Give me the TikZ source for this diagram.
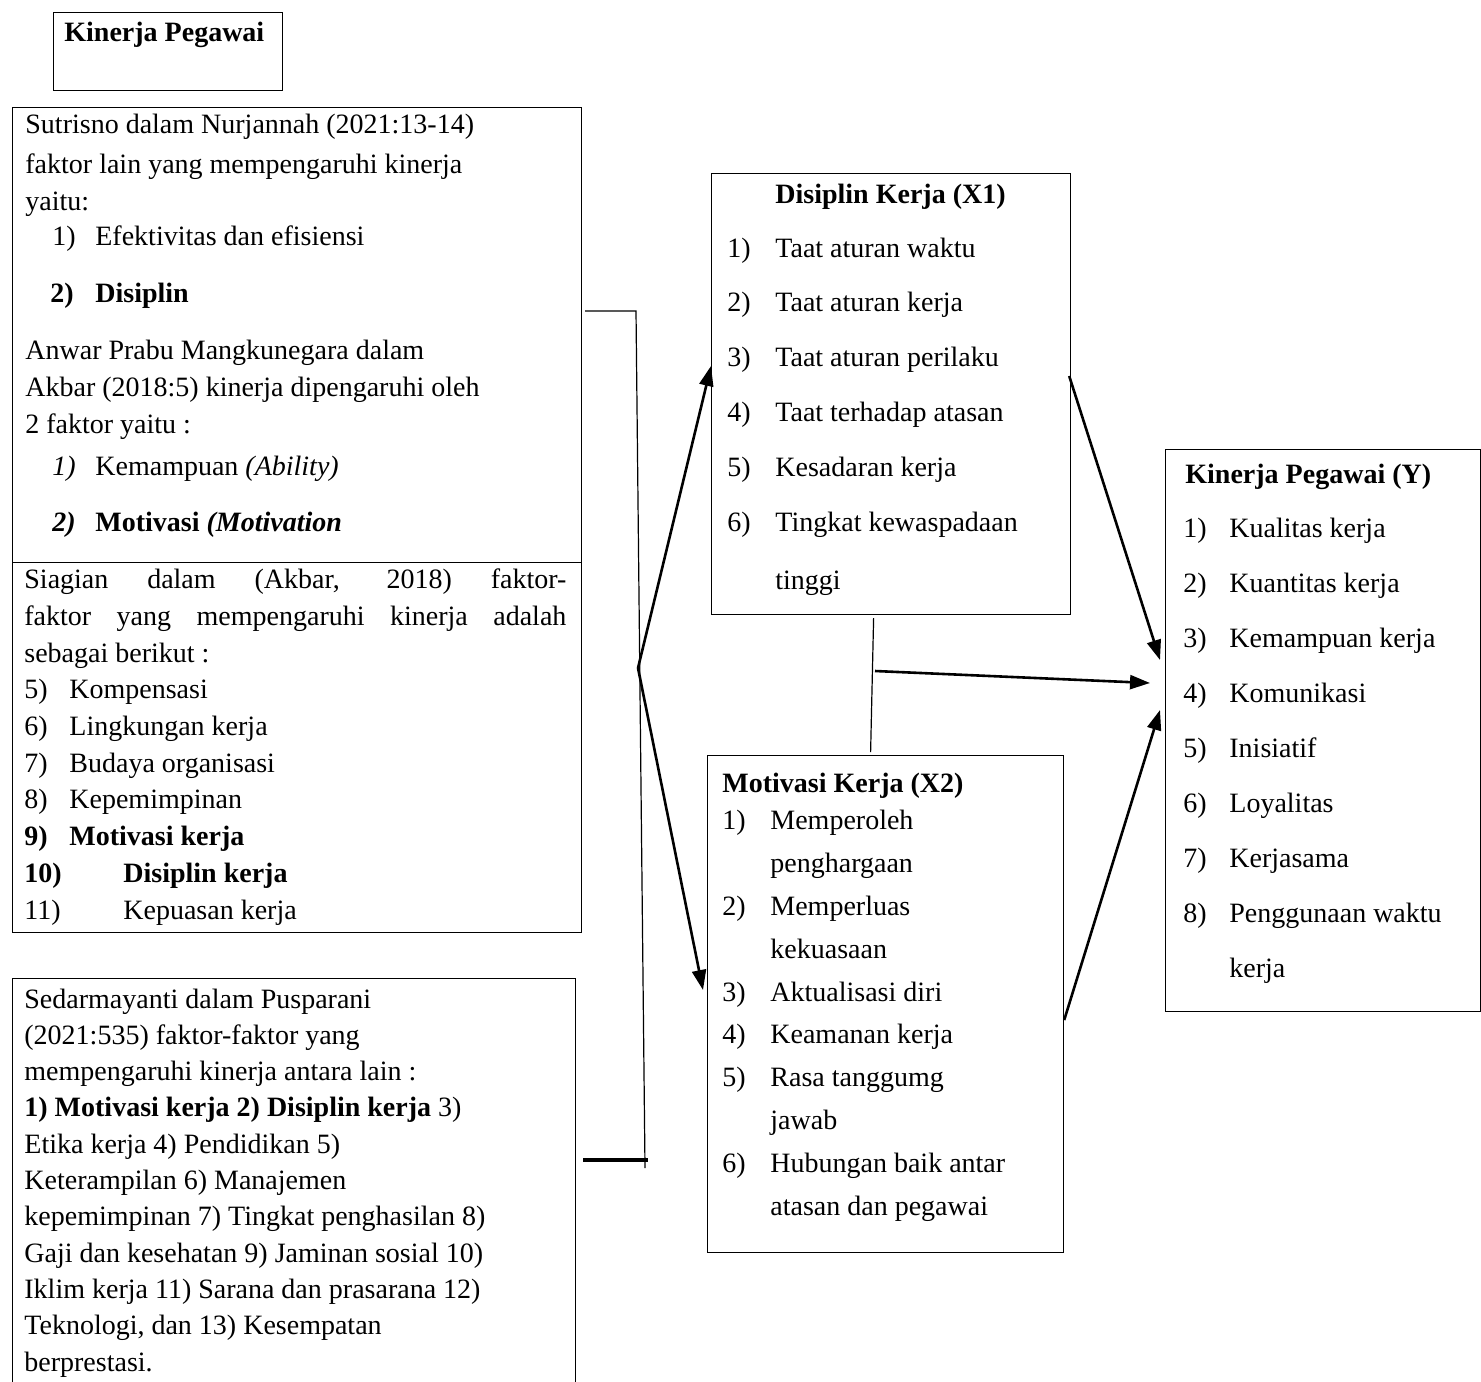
\documentclass[tikz,border=0pt]{standalone}
\usepackage{fontspec}
\setmainfont{Liberation Serif}
\usetikzlibrary{arrows.meta,positioning}

\newcommand{\nr}[2]{\makebox[#1][l]{#2}}

\begin{document}
\begin{tikzpicture}[
  x=0.5pt, y=-0.5pt,
  box/.style={draw, line width=0.6pt, inner sep=0pt, anchor=north west},
  txt/.style={anchor=base west, inner sep=0pt, align=left,
    font=\fontsize{14}{#1}\selectfont},
  txt/.default=18.5pt,
  ttl/.style={inner sep=0pt, font=\fontsize{14}{17}\selectfont\bfseries},
  link/.style={line width=0.6pt},
  arrow/.style={-{Triangle[length=10pt, width=7pt]}, line width=1.3pt}
]
\useasboundingbox (0,0) rectangle (1481,1381);

% Left column (text nodes are placed by the baseline of their last line)
\node[box, minimum width=114.5pt, minimum height=39pt] (head) at (53,12) {};
\node[ttl, anchor=base west] (head-t) at (64,41) {Kinerja Pegawai};

\node[box, minimum width=284.5pt, minimum height=227.5pt] (b1) at (12,107) {};
\node[txt] (b1-t) at (25,531) {Sutrisno dalam Nurjannah (2021:13-14)\\[1.5pt]
  faktor lain yang mempengaruhi kinerja\\
  yaitu:\\[-1pt]
  \hspace*{13.5pt}\nr{21.5pt}{1)}Efektivitas dan efisiensi\\[10pt]
  \hspace*{12.5pt}\textbf{\nr{22.5pt}{2)}Disiplin}\\[10pt]
  Anwar Prabu Mangkunegara dalam\\
  Akbar (2018:5) kinerja dipengaruhi oleh\\
  2 faktor yaitu :\\[2.5pt]
  \hspace*{13.5pt}\nr{21.5pt}{\textit{1)}}Kemampuan \textit{(Ability)}\\[9.5pt]
  \hspace*{13.5pt}\nr{21.5pt}{\textbf{\textit{2)}}}\textbf{Motivasi \textit{(Motivation}}};

\node[box, minimum width=284.5pt, minimum height=185pt] (b2) at (12,562) {};
\node[txt=18.35pt] (b2-t) at (24,919) {\makebox[271pt][s]{Siagian dalam (Akbar, 2018) faktor-}\\
  \makebox[271pt][s]{faktor yang mempengaruhi kinerja adalah}\\
  sebagai berikut :\\
  \nr{22.5pt}{5)}Kompensasi\\
  \nr{22.5pt}{6)}Lingkungan kerja\\
  \nr{22.5pt}{7)}Budaya organisasi\\
  \nr{22.5pt}{8)}Kepemimpinan\\
  \textbf{\nr{22.5pt}{9)}Motivasi kerja}\\
  \textbf{\nr{49.5pt}{10)}Disiplin kerja}\\
  \nr{49.5pt}{11)}Kepuasan kerja};

\node[box, minimum width=281.5pt, minimum height=205pt] (b3) at (12,978) {};
\node[txt=18.15pt] (b3-t) at (24,1371) {Sedarmayanti dalam Pusparani\\
  (2021:535) faktor-faktor yang\\
  mempengaruhi kinerja antara lain :\\
  \textbf{1) Motivasi kerja 2) Disiplin kerja} 3)\\
  Etika kerja 4) Pendidikan 5)\\
  Keterampilan 6) Manajemen\\
  kepemimpinan 7) Tingkat penghasilan 8)\\
  Gaji dan kesehatan 9) Jaminan sosial 10)\\
  Iklim kerja 11) Sarana dan prasarana 12)\\
  Teknologi, dan 13) Kesempatan\\
  berprestasi.};

% Middle column
\node[box, minimum width=179.5pt, minimum height=220.5pt] (x1) at (711,173) {};
\node[ttl, anchor=base] (x1-t) at (890.5,203) {Disiplin Kerja (X1)};
\node[txt=27.5pt] (x1-l) at (727,589) {\nr{24pt}{1)}Taat aturan waktu\\[-0.5pt]
  \nr{24pt}{2)}Taat aturan kerja\\
  \nr{24pt}{3)}Taat aturan perilaku\\
  \nr{24pt}{4)}Taat terhadap atasan\\
  \nr{24pt}{5)}Kesadaran kerja\\
  \nr{24pt}{6)}Tingkat kewaspadaan\\[1.5pt]
  \hspace*{24pt}tinggi};

\node[box, minimum width=178pt, minimum height=248.5pt] (x2) at (707,755) {};
\node[ttl, anchor=base west] (x2-t) at (722,792) {Motivasi Kerja (X2)};
\node[txt=21.4pt] (x2-l) at (722,1215) {\nr{24pt}{1)}Memperoleh\\
  \hspace*{24pt}penghargaan\\
  \nr{24pt}{2)}Memperluas\\
  \hspace*{24pt}kekuasaan\\
  \nr{24pt}{3)}Aktualisasi diri\\
  \nr{24pt}{4)}Keamanan kerja\\
  \nr{24pt}{5)}Rasa tanggumg\\
  \hspace*{24pt}jawab\\
  \nr{24pt}{6)}Hubungan baik antar\\
  \hspace*{24pt}atasan dan pegawai};

% Right column
\node[box, minimum width=157.5pt, minimum height=281pt] (y) at (1165,449) {};
\node[ttl, anchor=base west] (y-t) at (1185,483) {Kinerja Pegawai (Y)};
\node[txt=27.5pt] (y-l) at (1183,977) {\nr{23pt}{1)}Kualitas kerja\\
  \nr{23pt}{2)}Kuantitas kerja\\
  \nr{23pt}{3)}Kemampuan kerja\\
  \nr{23pt}{4)}Komunikasi\\
  \nr{23pt}{5)}Inisiatif\\
  \nr{23pt}{6)}Loyalitas\\
  \nr{23pt}{7)}Kerjasama\\
  \nr{23pt}{8)}Penggunaan waktu\\
  \hspace*{23pt}kerja};

% Connectors
\coordinate (spine-top) at (636,311);
\coordinate (spine-bot) at (645,1168);
\coordinate (hub) at (638,668);
\coordinate (tail) at (648,1160);
\coordinate (mid) at (875,671);

\draw[link] ([xshift=1.5pt]b1.east |- spine-top) -- (spine-top) -- (spine-bot);
\draw[line width=2pt] ([xshift=3.5pt]b3.east |- tail) -- (tail);

\draw[arrow] (hub) -- ([yshift=-96.5pt]x1.north west);
\draw[arrow] (hub) -- ([xshift=-2pt,yshift=-117.5pt]x2.north west);

\draw[link] ([xshift=-8.75pt,yshift=-1.5pt]x1.south) -- ([xshift=-7.5pt,yshift=1.5pt]x2.north);
\draw[arrow] (mid) -- ([xshift=-7.5pt,yshift=-117pt]y.north west);
\draw[arrow] ([xshift=-1pt,yshift=-101.5pt]x1.north east) -- ([xshift=-2.5pt,yshift=-105.5pt]y.north west);
\draw[arrow] ([yshift=-132.5pt]x2.north east) -- ([xshift=-2.5pt,yshift=-130.5pt]y.north west);

\end{tikzpicture}
\end{document}
